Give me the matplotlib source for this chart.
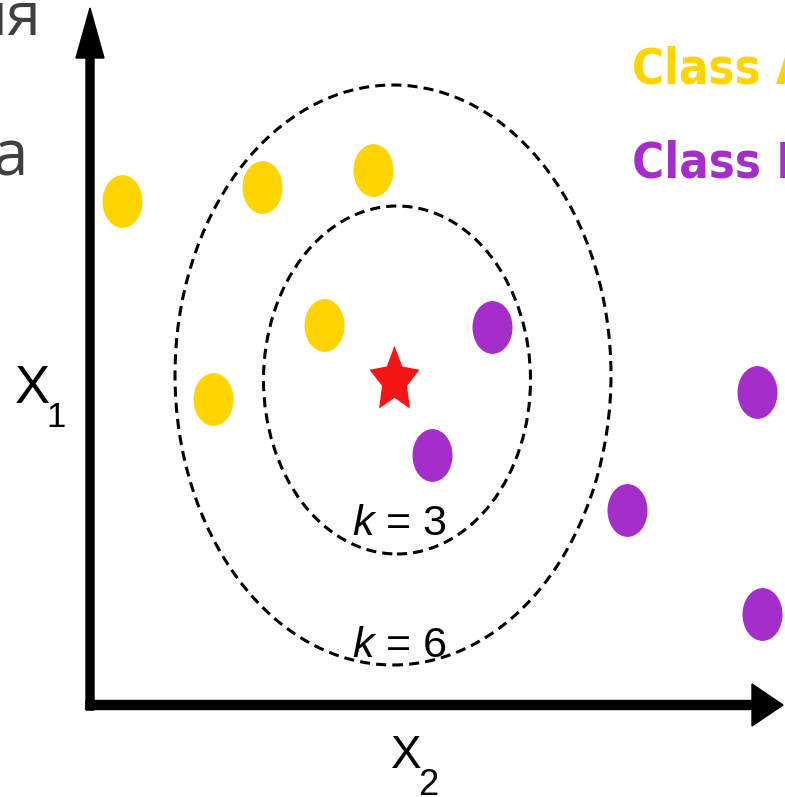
from matplotlib import font_manager
import matplotlib

matplotlib.use("Agg")
import matplotlib.pyplot as plt
from matplotlib.patches import Ellipse
from matplotlib.path import Path
from matplotlib.transforms import Affine2D


# Points in chart units (origin at the corner where the two axes meet)
CLASS_A_X2 = [32, 172, 283, 234, 123]
CLASS_A_X1 = [504, 518, 535, 380, 306]
CLASS_B_X2 = [402, 342, 537, 667, 672]
CLASS_B_X1 = [378, 250, 195, 313, 91]
QUERY_X2 = [304]
QUERY_X1 = [325]

# Neighbourhood rings around the query point
K_VALUES = [3, 6]
RING_X2 = [307, 303]
RING_X1 = [325, 330]
RING_WIDTHS = [267, 436]
RING_HEIGHTS = [348, 580]

CLASS_NAMES = ["Class A", "Class B"]

YELLOW = "#FFD400"
PURPLE = "#A52ECB"
RED = "#F51515"
GRAY = "#404040"

# the picture is a bit stretched upwards, so markers are too
STRETCH = 1.32

NARROW_STRETCHES = ("ultra-condensed", "extra-condensed", "condensed", "semi-condensed")


def condensed_font():
    """Look for an installed bold condensed / narrow face, else Roboto bold."""
    best = None
    for f in font_manager.fontManager.ttflist:
        narrow = (f.stretch in NARROW_STRETCHES or "Narrow" in f.name
                  or "Condensed" in f.name)
        if not narrow or f.style != "normal":
            continue
        weight = f.weight if isinstance(f.weight, int) else (700 if "bold" in str(f.weight) else 400)
        score = abs(weight - 700)
        if best is None or score < best[0]:
            best = (score, f.fname)
    if best is None:
        return font_manager.FontProperties(family="Roboto", weight="bold")
    return font_manager.FontProperties(fname=best[1])


def px(x, y):
    """Convert picture pixels to chart units."""
    return x - 90, 705 - y


def stretched(path):
    return path.transformed(Affine2D().scale(1, STRETCH))


fig = plt.figure(figsize=(7.85, 7.97), dpi=100)
ax = fig.add_axes([0, 0, 1, 1])
ax.set_xlim(-90, 695)
ax.set_ylim(-92, 705)
ax.axis("off")

# axes with arrow heads
ax.arrow(0, -5, 0, 702, width=8, head_width=28, head_length=50,
         length_includes_head=True, color="black", zorder=3)
ax.arrow(-4, 0, 697, 0, width=9, head_width=42, head_length=31,
         length_includes_head=True, color="black", zorder=3)

# dashed neighbourhood rings
for cx, cy, w, h in zip(RING_X2, RING_X1, RING_WIDTHS, RING_HEIGHTS):
    ax.add_patch(Ellipse((cx, cy), w, h, fill=False, edgecolor="black",
                         linewidth=2.2, linestyle=(0, (3.3, 2.0)), zorder=1))

dot = stretched(Path.unit_circle())
star = stretched(Path.unit_regular_star(5))

ax.plot(CLASS_A_X2, CLASS_A_X1, linestyle="none", marker=dot,
        markersize=38, color=YELLOW, markeredgewidth=0, zorder=2)
ax.plot(CLASS_B_X2, CLASS_B_X1, linestyle="none", marker=dot,
        markersize=38, color=PURPLE, markeredgewidth=0, zorder=2)
ax.plot(QUERY_X2, QUERY_X1, linestyle="none", marker=star,
        markersize=50, color=RED, markeredgewidth=0, zorder=2)

# k labels
for k, base in zip(K_VALUES, [535, 657]):
    ax.text(*px(374, base), "k", fontsize=31, family="Liberation Sans",
            style="italic", ha="right", va="baseline")
    ax.text(*px(386, base), f"= {k}", fontsize=31, family="Liberation Sans",
            ha="left", va="baseline")

# axis names
ax.text(*px(15, 403), "X", fontsize=38, family="Liberation Sans", ha="left", va="baseline")
ax.text(*px(46, 427), "1", fontsize=25, family="Liberation Sans", ha="left", va="baseline")
ax.text(*px(391, 768), "X", fontsize=33, family="Liberation Sans", ha="left", va="baseline")
ax.text(*px(418, 795), "2", fontsize=26, family="Liberation Sans", ha="left", va="baseline")

# legend text, sized to fit the room at the right (the reference cuts the last letter)
renderer = fig.canvas.get_renderer()
legend_font = condensed_font()
for name, color, base in zip(CLASS_NAMES, [YELLOW, PURPLE], [83, 177]):
    t = ax.text(*px(632, base), name, fontproperties=legend_font,
                color=color, ha="left", va="baseline")
    t.set_fontsize(60)
    width = t.get_window_extent(renderer).width
    t.set_fontsize(min(72, 60 * 178 / width))

# cut-off title text at the top left
ax.text(*px(42, 35), "ия", fontsize=44, family="Open Sans", color=GRAY,
        ha="right", va="baseline")
ax.text(*px(28, 175), "а", fontsize=46, family="Open Sans", color=GRAY,
        ha="right", va="baseline")

fig.savefig("out.png", dpi=100)
